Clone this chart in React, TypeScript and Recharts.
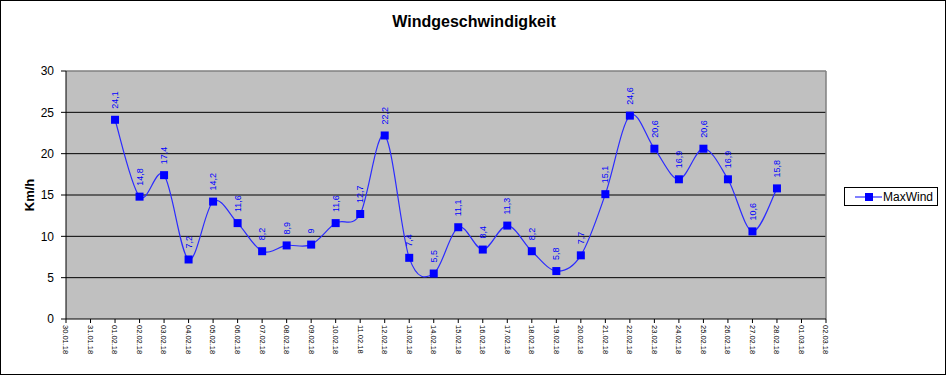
import {
  LineChart,
  Line,
  XAxis,
  YAxis,
  CartesianGrid,
  ReferenceLine,
} from 'recharts';

const dates = [
  '30.01.18', '31.01.18', '01.02.18', '02.02.18', '03.02.18', '04.02.18', '05.02.18', '06.02.18',
  '07.02.18', '08.02.18', '09.02.18', '10.02.18', '11.02.18', '12.02.18', '13.02.18', '14.02.18',
  '15.02.18', '16.02.18', '17.02.18', '18.02.18', '19.02.18', '20.02.18', '21.02.18', '22.02.18',
  '23.02.18', '24.02.18', '25.02.18', '26.02.18', '27.02.18', '28.02.18', '01.03.18', '02.03.18',
];

const maxWind: (number | null)[] = [
  null, null, 24.1, 14.8, 17.4, 7.2, 14.2, 11.6,
  8.2, 8.9, 9, 11.6, 12.7, 22.2, 7.4, 5.5,
  11.1, 8.4, 11.3, 8.2, 5.8, 7.7, 15.1, 24.6,
  20.6, 16.9, 20.6, 16.9, 10.6, 15.8, null, null,
];

const yTicks = [0, 5, 10, 15, 20, 25, 30];
const gridValues = [5, 10, 15, 20, 25];

const data = dates.map((d, i) => ({ name: d, MaxWind: maxWind[i] }));

const FONT = 'Arial, "Liberation Sans", sans-serif';
const BLUE = '#0000FF';

// Excel-like smoothed line (uniform Catmull-Rom as cubic beziers)
function smoothCurve(context: any) {
  let pts: [number, number][] = [];
  return {
    areaStart() {},
    areaEnd() {},
    lineStart() {
      pts = [];
    },
    point(x: number, y: number) {
      pts.push([+x, +y]);
    },
    lineEnd() {
      const n = pts.length;
      if (!n) return;
      context.moveTo(pts[0][0], pts[0][1]);
      for (let i = 0; i < n - 1; i++) {
        const p0 = pts[i - 1] || pts[i];
        const p1 = pts[i];
        const p2 = pts[i + 1];
        const p3 = pts[i + 2] || p2;
        context.bezierCurveTo(
          p1[0] + (p2[0] - p0[0]) / 6,
          p1[1] + (p2[1] - p0[1]) / 6,
          p2[0] - (p3[0] - p1[0]) / 6,
          p2[1] - (p3[1] - p1[1]) / 6,
          p2[0],
          p2[1]
        );
      }
    },
  };
}

const XTick = (props: any) => {
  const { x, y, payload } = props;
  return (
    <text
      x={x}
      y={y}
      transform={`rotate(90, ${x}, ${y})`}
      textAnchor="start"
      dy="0.35em"
      fontSize={7.5}
      fontFamily={FONT}
      fill="#000"
    >
      {payload.value}
    </text>
  );
};

const SquareDot = (props: any) => {
  const { cx, cy, index } = props;
  if (cx == null || cy == null || props.value == null) return <g key={`d-${index}`} />;
  return <rect key={`d-${index}`} x={cx - 4} y={cy - 4} width={8} height={8} fill={BLUE} />;
};

const ValueLabel = (props: any) => {
  const { x, y, value, index } = props;
  if (value == null || x == null || y == null) return <g key={`l-${index}`} />;
  const ly = y - 11;
  return (
    <text
      key={`l-${index}`}
      x={x}
      y={ly}
      transform={`rotate(-90, ${x}, ${ly})`}
      textAnchor="start"
      dy="0.35em"
      fontSize={9}
      fontFamily={FONT}
      fill={BLUE}
    >
      {String(value).replace('.', ',')}
    </text>
  );
};

export default function App() {
  return (
    <div
      style={{
        position: 'absolute',
        left: 0,
        top: 0,
        width: 946,
        height: 375,
        boxSizing: 'border-box',
        border: '1px solid #000',
        background: '#fff',
        fontFamily: FONT,
      }}
    >
      <div
        style={{
          position: 'absolute',
          left: 0,
          top: 12,
          width: 946,
          textAlign: 'center',
          fontSize: 16,
          fontWeight: 'bold',
        }}
      >
        Windgeschwindigkeit
      </div>
      <div
        style={{
          position: 'absolute',
          left: 28,
          top: 194,
          transform: 'translate(-50%, -50%) rotate(-90deg)',
          fontSize: 13,
          fontWeight: 'bold',
          whiteSpace: 'nowrap',
        }}
      >
        Km/h
      </div>
      <div
        style={{
          position: 'absolute',
          left: 843,
          top: 186,
          width: 94,
          height: 19,
          boxSizing: 'border-box',
          border: '1px solid #000',
          display: 'flex',
          alignItems: 'center',
          fontSize: 12,
        }}
      >
        <svg width={36} height={10} style={{ marginLeft: 2 }}>
          <line x1={8} y1={5} x2={35} y2={5} stroke={BLUE} strokeWidth={1} />
          <rect x={18} y={1} width={8} height={8} fill={BLUE} />
        </svg>
        <span>MaxWind</span>
      </div>
      <div style={{ position: 'absolute', left: 0, top: 0 }}>
        <LineChart
          width={946}
          height={375}
          data={data}
          margin={{ top: 70, right: 121, bottom: 0, left: 0 }}
        >
          <CartesianGrid
            vertical={false}
            horizontalValues={gridValues}
            stroke="#000"
            strokeWidth={1}
            fill="#C0C0C0"
            fillOpacity={1}
          />
          <ReferenceLine y={30} stroke="#808080" strokeWidth={1.5} />
          <ReferenceLine x="02.03.18" stroke="#808080" strokeWidth={1.5} />
          <XAxis
            dataKey="name"
            height={57}
            interval={0}
            tick={<XTick />}
            tickSize={4}
            tickMargin={2}
            axisLine={{ stroke: '#000' }}
            tickLine={{ stroke: '#000' }}
          />
          <YAxis
            width={65}
            domain={[0, 30]}
            ticks={yTicks}
            interval={0}
            tickSize={5}
            tickMargin={7}
            axisLine={{ stroke: '#000' }}
            tickLine={{ stroke: '#000' }}
            tick={{ fill: '#000', fontSize: 12, fontFamily: FONT }}
          />
          <Line
            dataKey="MaxWind"
            type={smoothCurve as any}
            stroke="#2B2BFF"
            strokeWidth={1.2}
            dot={SquareDot}
            activeDot={false}
            label={ValueLabel}
            isAnimationActive={false}
          />
        </LineChart>
      </div>
    </div>
  );
}
